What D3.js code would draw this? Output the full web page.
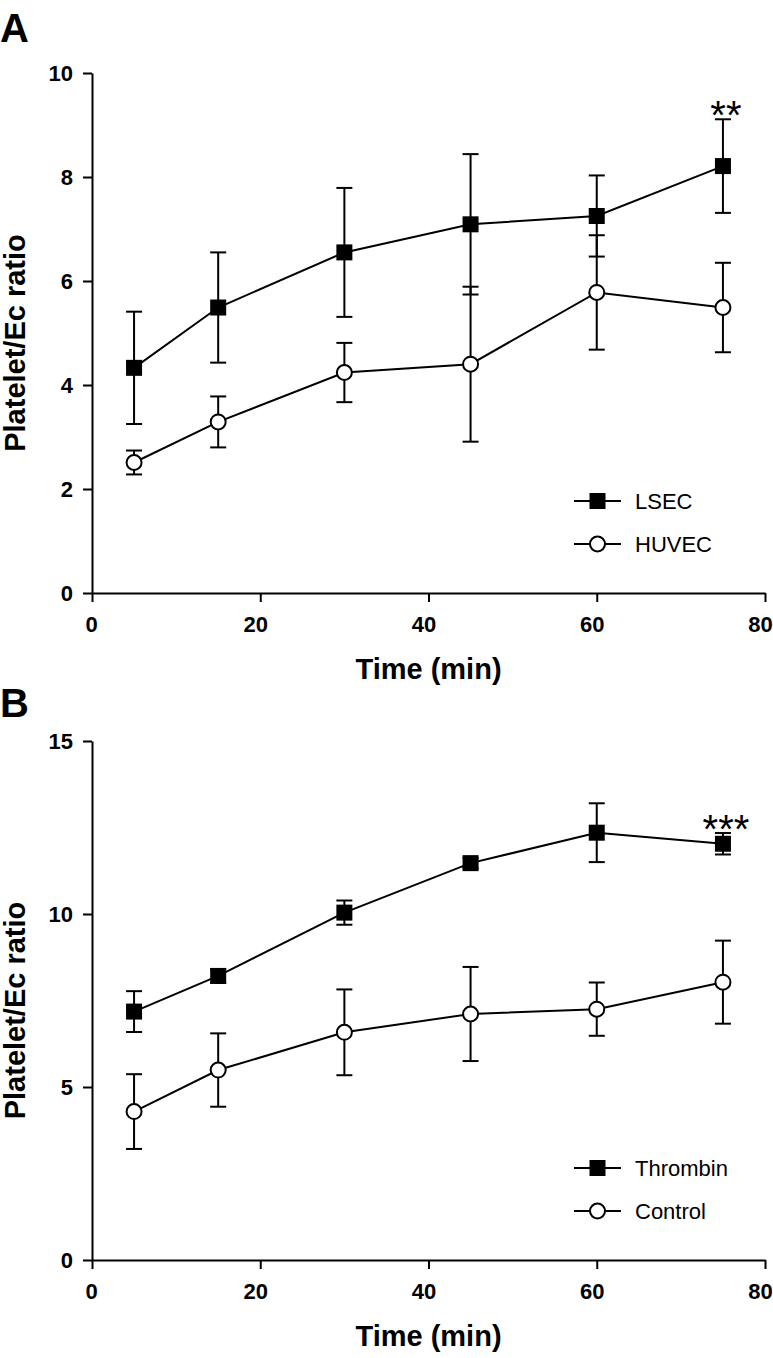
<!DOCTYPE html>
<html>
<head>
<meta charset="utf-8">
<script src="https://cdn.jsdelivr.net/npm/d3@7"></script>
<style>
  html, body { margin: 0; padding: 0; background: #fff; }
  svg { display: block; }
  text { font-family: "Liberation Sans", Arial, sans-serif; fill: #000; }
</style>
</head>
<body>
<script>
// ---------- DATA ----------
const times = [5, 15, 30, 45, 60, 75];
const xTicks = [0, 20, 40, 60, 80];

// Panel A
const yTicksA = [0, 2, 4, 6, 8, 10];
const lsecMean  = [4.33, 5.49, 6.55, 7.09, 7.25, 8.21];
const lsecSem   = [1.08, 1.06, 1.24, 1.35, 0.78, 0.90];
const huvecMean = [2.51, 3.29, 4.24, 4.40, 5.78, 5.49];
const huvecSem  = [0.23, 0.49, 0.57, 1.49, 1.10, 0.86];
const seriesNamesA = ["LSEC", "HUVEC"];
const sigA = { time: 75, label: "**" };

// Panel B
const yTicksB = [0, 5, 10, 15];
const thrombinMean = [7.18, 8.21, 10.04, 11.47, 12.35, 12.03];
const thrombinSem  = [0.59, 0.20, 0.35, 0.15, 0.85, 0.31];
const controlMean  = [4.29, 5.49, 6.58, 7.11, 7.25, 8.03];
const controlSem   = [1.08, 1.06, 1.24, 1.36, 0.77, 1.20];
const seriesNamesB = ["Thrombin", "Control"];
const sigB = { time: 75, label: "***" };

const xLabel = "Time (min)";
const yLabel = "Platelet/Ec ratio";

// ---------- DRAW ----------
const W = 773, H = 1358;
const svg = d3.select("body").append("svg").attr("width", W).attr("height", H);

function panel(opts) {
  const { letter, letterY, top, bottom, yMax, yTicks, series, sig } = opts;
  const x = d3.scaleLinear().domain([0, 80]).range([92, 765]);
  const y = d3.scaleLinear().domain([0, yMax]).range([bottom, top]);
  const g = svg.append("g");

  // panel letter
  g.append("text").attr("x", 0).attr("y", letterY)
    .attr("font-size", 40).attr("font-weight", "bold").text(letter);

  // axes
  const xAxis = d3.axisBottom(x).tickValues(xTicks).tickSize(9).tickSizeOuter(0).tickPadding(14);
  const yAxis = d3.axisLeft(y).tickValues(yTicks).tickSize(9).tickSizeOuter(0).tickPadding(10);
  const gx = g.append("g").attr("transform", `translate(0,${bottom})`).call(xAxis);
  const gy = g.append("g").attr("transform", `translate(${x(0)},0)`).call(yAxis);
  [gx, gy].forEach(a => {
    a.selectAll("path.domain").attr("stroke", "#000").attr("stroke-width", 2);
    a.selectAll(".tick line").attr("stroke", "#000").attr("stroke-width", 2);
    a.selectAll(".tick text").attr("font-size", 22).attr("font-weight", "bold")
      .attr("font-family", "'Liberation Sans', Arial, sans-serif").attr("fill", "#000");
  });
  gx.selectAll(".tick text").attr("dy", "0.71em").attr("dx", d => d === 0 ? -1 : -5);

  // axis titles
  g.append("text").attr("x", (x(0) + x(80)) / 2).attr("y", bottom + 86)
    .attr("text-anchor", "middle").attr("font-size", 29).attr("font-weight", "bold").text(xLabel);
  const cy = (top + bottom) / 2 + 10;
  g.append("text").attr("transform", `translate(25,${cy}) rotate(-90)`)
    .attr("text-anchor", "middle").attr("font-size", 29).attr("font-weight", "bold").text(yLabel);

  const line = d3.line().x(d => x(d.t)).y(d => y(d.m));
  const capW = 8;

  // error bars first (all series), then lines and markers
  series.forEach(s => {
    const pts = times.map((t, i) => ({ t, m: s.mean[i], e: s.sem[i] }));
    const eg = g.append("g").attr("stroke", "#000").attr("stroke-width", 2);
    pts.forEach(p => {
      eg.append("line").attr("x1", x(p.t)).attr("x2", x(p.t))
        .attr("y1", y(p.m - p.e)).attr("y2", y(p.m + p.e));
      [p.m - p.e, p.m + p.e].forEach(v => {
        eg.append("line").attr("x1", x(p.t) - capW).attr("x2", x(p.t) + capW)
          .attr("y1", y(v)).attr("y2", y(v));
      });
    });
    s.pts = pts;
  });
  series.forEach(s => {
    g.append("path").datum(s.pts).attr("d", line)
      .attr("fill", "none").attr("stroke", "#000").attr("stroke-width", 2);
  });
  function marker(sel, type, cx, cyy) {
    if (type === "square") {
      sel.append("rect").attr("x", cx - 8).attr("y", cyy - 8).attr("width", 16).attr("height", 16).attr("fill", "#000");
    } else {
      sel.append("circle").attr("cx", cx).attr("cy", cyy).attr("r", 7.5)
        .attr("fill", "#fff").attr("stroke", "#000").attr("stroke-width", 2);
    }
  }
  series.forEach(s => {
    s.pts.forEach(p => marker(g, s.type, x(p.t), y(p.m)));
  });

  // significance
  const si = times.indexOf(sig.time);
  const s0 = series[0];
  g.append("text").attr("x", x(sig.time) + 3).attr("y", y(s0.mean[si] + s0.sem[si]) + 10)
    .attr("text-anchor", "middle").attr("font-size", 40).text(sig.label);

  // legend
  series.forEach((s, i) => {
    const ly = bottom - (i === 0 ? 92 : 49);
    g.append("line").attr("x1", 574).attr("x2", 621).attr("y1", ly).attr("y2", ly)
      .attr("stroke", "#000").attr("stroke-width", 2);
    marker(g, s.type, 597.5, ly);
    g.append("text").attr("x", 635).attr("y", ly).attr("dy", "0.36em")
      .attr("font-size", 22).text(s.name);
  });
}

panel({
  letter: "A", letterY: 42, top: 73, bottom: 593, yMax: 10, yTicks: yTicksA,
  series: [
    { name: seriesNamesA[0], mean: lsecMean, sem: lsecSem, type: "square" },
    { name: seriesNamesA[1], mean: huvecMean, sem: huvecSem, type: "circle" }
  ],
  sig: sigA
});
panel({
  letter: "B", letterY: 717, top: 741, bottom: 1260, yMax: 15, yTicks: yTicksB,
  series: [
    { name: seriesNamesB[0], mean: thrombinMean, sem: thrombinSem, type: "square" },
    { name: seriesNamesB[1], mean: controlMean, sem: controlSem, type: "circle" }
  ],
  sig: sigB
});
</script>
</body>
</html>
